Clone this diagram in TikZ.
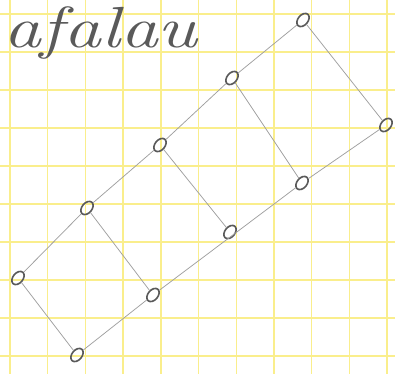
\documentclass[tikz,border=0pt]{standalone}
\usetikzlibrary{shapes.geometric}
\definecolor{gridy}{RGB}{250,238,140}
\definecolor{pencil}{RGB}{90,90,90}
\definecolor{edgec}{RGB}{160,160,160}
\begin{document}
\begin{tikzpicture}[x=1pt,y=-1pt,
  pt/.style={ellipse, draw=pencil, line width=1.6pt, minimum width=15pt, minimum height=10pt, inner sep=0pt, rotate=50},
  edge/.style={draw=edgec, line width=0.75pt}]
\useasboundingbox (0,0) rectangle (395,374);
\clip (0,0) rectangle (395,374);
\fill[white] (0,0) rectangle (395,374);
\foreach \k in {0,...,9} \draw[gridy, line width=1.4pt] (0,14+38*\k) -- (395,14+38*\k);
\foreach \k in {0,...,10} \draw[gridy, line width=1.4pt] (10+37.7*\k,0) -- (10+37.7*\k,374);
\node[anchor=base west, text=pencil, inner sep=0pt, font=\itshape\fontsize{58}{58}\selectfont] (title) at (3,48) {\scalebox{1.3}[1]{afalau}};
\node[pt] (n1) at (303,20) {};
\node[pt] (n2) at (232,78) {};
\node[pt] (n3) at (386,125) {};
\node[pt] (n4) at (160,145) {};
\node[pt] (n5) at (302,183) {};
\node[pt] (n6) at (87,208) {};
\node[pt] (n7) at (230,232) {};
\node[pt] (n8) at (18,278) {};
\node[pt] (n9) at (153,295) {};
\node[pt] (n10) at (77,355) {};
\draw[edge] (n1) -- (n2);
\draw[edge] (n1) -- (n3);
\draw[edge] (n2) -- (n4);
\draw[edge] (n2) -- (n5);
\draw[edge] (n3) -- (n5);
\draw[edge] (n4) -- (n6);
\draw[edge] (n4) -- (n7);
\draw[edge] (n5) -- (n9);
\draw[edge] (n6) -- (n8);
\draw[edge] (n6) -- (n9);
\draw[edge] (n8) -- (n10);
\draw[edge] (n9) -- (n10);
\end{tikzpicture}
\end{document}
